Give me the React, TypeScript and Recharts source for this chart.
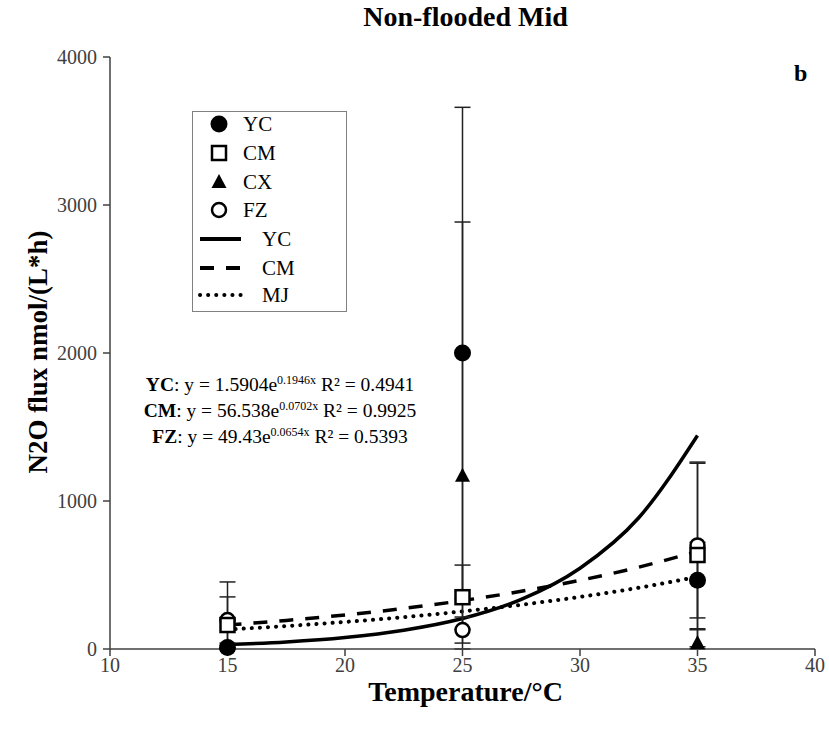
import React from "react";
import { ComposedChart, Scatter, Line, XAxis, YAxis, ErrorBar } from "recharts";

// measured points (temperature, flux), error bars as [minus, plus]
const temps = [15, 25, 35];
const ycFlux = [10, 2000, 465];
const ycErr = [[10, 15], [1660, 1660], [255, 255]];
const cmFlux = [162, 350, 635];
const cmErr = [[162, 190], [217, 217], [620, 620]];
const cxFlux = [20, 1170, 40];
const cxErr = [[20, 20], [1170, 1715], [40, 90]];
const fzFlux = [196, 128, 700];
const fzErr = [[196, 257], [88, 88], [563, 563]];

// trend curves
const curveTemps = [15, 17.5, 20, 22.5, 25, 27.5, 30, 32.5, 35];
const ycCurve = [30, 48, 78, 127, 206, 335, 546, 887, 1443];
const cmCurve = [162, 193, 230, 274, 327, 390, 464, 553, 660];
const mjCurve = [132, 155, 183, 215, 254, 299, 352, 414, 488];

const xTicks = [10, 15, 20, 25, 30, 35, 40];
const yTicks = [0, 1000, 2000, 3000, 4000];

const serif = "'Liberation Serif', 'Times New Roman', serif";
const axisColor = "#404040";

const points = (vals: number[], errs: number[][]) =>
  temps.map((x, i) => ({ x, y: vals[i], err: errs[i] }));
const curve = (vals: number[]) => curveTemps.map((x, i) => ({ x, y: vals[i] }));

const FilledCircle = (p: any) => <circle cx={p.cx} cy={p.cy} r={8.5} fill="#000" />;
const OpenSquare = (p: any) => (
  <rect x={p.cx - 7} y={p.cy - 7} width={14} height={14} fill="#fff" stroke="#000" strokeWidth={2.5} />
);
const Triangle = (p: any) => (
  <path d={`M${p.cx},${p.cy - 8} L${p.cx + 7.5},${p.cy + 6} L${p.cx - 7.5},${p.cy + 6} Z`} fill="#000" />
);
const OpenCircle = (p: any) => (
  <circle cx={p.cx} cy={p.cy} r={7} fill="#fff" stroke="#000" strokeWidth={2.5} />
);

const legendMarkers = [
  { label: "YC", Shape: FilledCircle },
  { label: "CM", Shape: OpenSquare },
  { label: "CX", Shape: Triangle },
  { label: "FZ", Shape: OpenCircle },
];
const legendLines = [
  { label: "YC", dash: undefined as string | undefined },
  { label: "CM", dash: "14 12" },
  { label: "MJ", dash: "0.1 8" },
];

function Legend() {
  const rowY = [124, 153, 182, 210, 239, 268, 295];
  return (
    <svg width={829} height={734} style={{ position: "absolute", left: 0, top: 0, pointerEvents: "none" }}>
      <rect x={192.5} y={111.5} width={154} height={200} fill="#fff" stroke="#808080" strokeWidth={1} />
      {legendMarkers.map((m, i) => (
        <g key={m.label + i}>
          <m.Shape cx={219} cy={rowY[i]} />
          <text x={243} y={rowY[i] + 7} fontFamily={serif} fontSize={21} fill="#000">
            {m.label}
          </text>
        </g>
      ))}
      {legendLines.map((l, i) => (
        <g key={"l" + l.label}>
          <line
            x1={200}
            x2={241}
            y1={rowY[i + 4]}
            y2={rowY[i + 4]}
            stroke="#000"
            strokeWidth={4}
            strokeDasharray={l.dash}
            strokeLinecap={l.dash === "0.1 8" ? "round" : "butt"}
          />
          <text x={262} y={rowY[i + 4] + 7} fontFamily={serif} fontSize={21} fill="#000">
            {l.label}
          </text>
        </g>
      ))}
    </svg>
  );
}

const equations = [
  { name: "YC", a: "1.5904", b: "0.1946x", r2: "0.4941" },
  { name: "CM", a: "56.538", b: "0.0702x", r2: "0.9925" },
  { name: "FZ", a: "49.43", b: "0.0654x", r2: "0.5393" },
];

export default function App() {
  return (
    <div style={{ position: "absolute", left: 0, top: 0, width: 829, height: 734, background: "#fff", fontFamily: serif }}>
      <ComposedChart width={829} height={734} margin={{ top: 57, right: 14, bottom: 45, left: 50 }}>
        <XAxis
          type="number"
          dataKey="x"
          domain={[10, 40]}
          ticks={xTicks}
          height={40}
          tickSize={7}
          tickMargin={2}
          stroke={axisColor}
          strokeWidth={1.5}
          tick={{ fontSize: 20, fill: axisColor, fontFamily: serif }}
        />
        <YAxis
          type="number"
          domain={[0, 4000]}
          ticks={yTicks}
          width={60}
          tickSize={7}
          tickMargin={6}
          stroke={axisColor}
          strokeWidth={1.5}
          tick={{ fontSize: 20, fill: axisColor, fontFamily: serif }}
        />
        <Line data={curve(ycCurve)} dataKey="y" type="monotone" dot={false} stroke="#000" strokeWidth={3.5} isAnimationActive={false} />
        <Line data={curve(cmCurve)} dataKey="y" type="monotone" dot={false} stroke="#000" strokeWidth={3.5} strokeDasharray="14 12" isAnimationActive={false} />
        <Line data={curve(mjCurve)} dataKey="y" type="monotone" dot={false} stroke="#000" strokeWidth={4} strokeDasharray="0.1 8" strokeLinecap="round" isAnimationActive={false} />
        <Scatter data={points(cxFlux, cxErr)} dataKey="y" shape={Triangle} isAnimationActive={false}>
          <ErrorBar dataKey="err" direction="y" width={8} stroke="#222" strokeWidth={1.5} />
        </Scatter>
        <Scatter data={points(fzFlux, fzErr)} dataKey="y" shape={OpenCircle} isAnimationActive={false}>
          <ErrorBar dataKey="err" direction="y" width={8} stroke="#222" strokeWidth={1.5} />
        </Scatter>
        <Scatter data={points(cmFlux, cmErr)} dataKey="y" shape={OpenSquare} isAnimationActive={false}>
          <ErrorBar dataKey="err" direction="y" width={8} stroke="#222" strokeWidth={1.5} />
        </Scatter>
        <Scatter data={points(ycFlux, ycErr)} dataKey="y" shape={FilledCircle} isAnimationActive={false}>
          <ErrorBar dataKey="err" direction="y" width={8} stroke="#222" strokeWidth={1.5} />
        </Scatter>
      </ComposedChart>

      <Legend />

      <div style={{ position: "absolute", left: 0, width: 829, top: 1, textAlign: "center", paddingLeft: 102, boxSizing: "border-box", fontWeight: "bold", fontSize: 28 }}>
        Non-flooded Mid
      </div>
      <div style={{ position: "absolute", left: 794, top: 60, fontWeight: "bold", fontSize: 24 }}>b</div>

      <div
        style={{
          position: "absolute",
          left: 38,
          top: 352,
          transform: "translate(-50%, -50%) rotate(-90deg)",
          whiteSpace: "nowrap",
          fontWeight: "bold",
          fontSize: 27,
        }}
      >
        N2O flux nmol/(L*h)
      </div>
      <div style={{ position: "absolute", left: 0, width: 829, top: 679, lineHeight: "26px", textAlign: "center", paddingLeft: 102, boxSizing: "border-box", fontWeight: "bold", fontSize: 28 }}>
        Temperature/°C
      </div>

      <div style={{ position: "absolute", left: 130, width: 300, top: 372, textAlign: "center", fontSize: 19.5, lineHeight: "26px" }}>
        {equations.map((e) => (
          <div key={e.name} style={{ whiteSpace: "nowrap" }}>
            <b>{e.name}</b>: y = {e.a}e<sup style={{ fontSize: 12, verticalAlign: "7px", lineHeight: 0 }}>{e.b}</sup> R² = {e.r2}
          </div>
        ))}
      </div>
    </div>
  );
}
